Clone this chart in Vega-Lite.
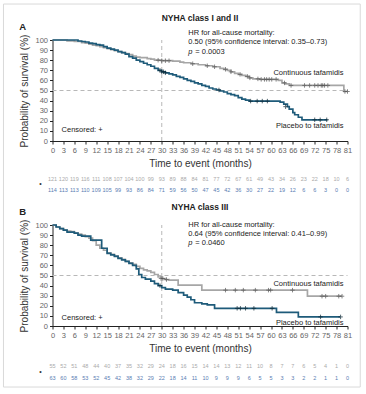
{
  "$schema": "https://vega.github.io/schema/vega-lite/v6.json",
  "padding": {"top": 3, "left": 2.5, "right": 3, "bottom": 3},
  "background": "white",
  "config": {
    "font": "Liberation Sans",
    "view": {"stroke": null},
    "axis": {"domainColor": "#222", "tickColor": "#222", "labelColor": "#666", "labelFontSize": 7.5, "titleFontSize": 10, "titleColor": "#333", "titleFontWeight": "normal", "grid": false, "tickSize": 3, "labelPadding": 2}
  },
  "datasets": {
    "one": [{}],
    "kmA": [
      {"arm": "Continuous tafamidis", "t": 0, "s": 100}, {"arm": "Continuous tafamidis", "t": 3, "s": 100}, {"arm": "Continuous tafamidis", "t": 4, "s": 99.2}, {"arm": "Continuous tafamidis", "t": 6, "s": 98.5}, {"arm": "Continuous tafamidis", "t": 8, "s": 97.5}, {"arm": "Continuous tafamidis", "t": 9, "s": 97}, {"arm": "Continuous tafamidis", "t": 10, "s": 96}, {"arm": "Continuous tafamidis", "t": 11, "s": 95}, {"arm": "Continuous tafamidis", "t": 12, "s": 94.5}, {"arm": "Continuous tafamidis", "t": 13, "s": 93.5}, {"arm": "Continuous tafamidis", "t": 14, "s": 92.5}, {"arm": "Continuous tafamidis", "t": 15, "s": 91.5}, {"arm": "Continuous tafamidis", "t": 16, "s": 90.5}, {"arm": "Continuous tafamidis", "t": 17, "s": 89.5}, {"arm": "Continuous tafamidis", "t": 18, "s": 88.5}, {"arm": "Continuous tafamidis", "t": 19, "s": 87.5}, {"arm": "Continuous tafamidis", "t": 20, "s": 86.5}, {"arm": "Continuous tafamidis", "t": 21, "s": 85.5}, {"arm": "Continuous tafamidis", "t": 22, "s": 84}, {"arm": "Continuous tafamidis", "t": 23, "s": 83}, {"arm": "Continuous tafamidis", "t": 24, "s": 82.5}, {"arm": "Continuous tafamidis", "t": 26, "s": 81.5}, {"arm": "Continuous tafamidis", "t": 27, "s": 81}, {"arm": "Continuous tafamidis", "t": 28, "s": 80}, {"arm": "Continuous tafamidis", "t": 30, "s": 79.5}, {"arm": "Continuous tafamidis", "t": 33, "s": 79}, {"arm": "Continuous tafamidis", "t": 35, "s": 78}, {"arm": "Continuous tafamidis", "t": 36, "s": 77.5}, {"arm": "Continuous tafamidis", "t": 38, "s": 76.5}, {"arm": "Continuous tafamidis", "t": 40, "s": 75.5}, {"arm": "Continuous tafamidis", "t": 42, "s": 74.5}, {"arm": "Continuous tafamidis", "t": 44, "s": 73.5}, {"arm": "Continuous tafamidis", "t": 46, "s": 72}, {"arm": "Continuous tafamidis", "t": 47, "s": 71}, {"arm": "Continuous tafamidis", "t": 48, "s": 70}, {"arm": "Continuous tafamidis", "t": 49, "s": 68.5}, {"arm": "Continuous tafamidis", "t": 50, "s": 67}, {"arm": "Continuous tafamidis", "t": 51, "s": 66}, {"arm": "Continuous tafamidis", "t": 52, "s": 65}, {"arm": "Continuous tafamidis", "t": 53, "s": 64}, {"arm": "Continuous tafamidis", "t": 54, "s": 62.5}, {"arm": "Continuous tafamidis", "t": 55, "s": 61.5}, {"arm": "Continuous tafamidis", "t": 57, "s": 61}, {"arm": "Continuous tafamidis", "t": 62, "s": 60}, {"arm": "Continuous tafamidis", "t": 63, "s": 57.5}, {"arm": "Continuous tafamidis", "t": 64, "s": 56.5}, {"arm": "Continuous tafamidis", "t": 65, "s": 55}, {"arm": "Continuous tafamidis", "t": 80, "s": 49}, {"arm": "Continuous tafamidis", "t": 81, "s": 49},
      {"arm": "Placebo to tafamidis", "t": 0, "s": 100}, {"arm": "Placebo to tafamidis", "t": 6, "s": 100}, {"arm": "Placebo to tafamidis", "t": 7, "s": 99}, {"arm": "Placebo to tafamidis", "t": 8, "s": 98.5}, {"arm": "Placebo to tafamidis", "t": 9, "s": 98}, {"arm": "Placebo to tafamidis", "t": 10, "s": 97}, {"arm": "Placebo to tafamidis", "t": 11, "s": 96.5}, {"arm": "Placebo to tafamidis", "t": 12, "s": 95.5}, {"arm": "Placebo to tafamidis", "t": 13, "s": 95}, {"arm": "Placebo to tafamidis", "t": 14, "s": 93.5}, {"arm": "Placebo to tafamidis", "t": 15, "s": 92}, {"arm": "Placebo to tafamidis", "t": 16, "s": 91}, {"arm": "Placebo to tafamidis", "t": 17, "s": 90}, {"arm": "Placebo to tafamidis", "t": 18, "s": 88.5}, {"arm": "Placebo to tafamidis", "t": 19, "s": 87.5}, {"arm": "Placebo to tafamidis", "t": 20, "s": 86}, {"arm": "Placebo to tafamidis", "t": 21, "s": 83.5}, {"arm": "Placebo to tafamidis", "t": 22, "s": 82}, {"arm": "Placebo to tafamidis", "t": 23, "s": 80}, {"arm": "Placebo to tafamidis", "t": 24, "s": 78.5}, {"arm": "Placebo to tafamidis", "t": 25, "s": 77}, {"arm": "Placebo to tafamidis", "t": 26, "s": 75.5}, {"arm": "Placebo to tafamidis", "t": 27, "s": 74}, {"arm": "Placebo to tafamidis", "t": 28, "s": 72}, {"arm": "Placebo to tafamidis", "t": 29, "s": 70}, {"arm": "Placebo to tafamidis", "t": 30, "s": 68.5}, {"arm": "Placebo to tafamidis", "t": 31, "s": 67.5}, {"arm": "Placebo to tafamidis", "t": 32, "s": 66.5}, {"arm": "Placebo to tafamidis", "t": 33, "s": 65.5}, {"arm": "Placebo to tafamidis", "t": 34, "s": 64}, {"arm": "Placebo to tafamidis", "t": 35, "s": 63}, {"arm": "Placebo to tafamidis", "t": 36, "s": 61.5}, {"arm": "Placebo to tafamidis", "t": 37, "s": 60}, {"arm": "Placebo to tafamidis", "t": 38, "s": 59}, {"arm": "Placebo to tafamidis", "t": 39, "s": 57.5}, {"arm": "Placebo to tafamidis", "t": 40, "s": 56.5}, {"arm": "Placebo to tafamidis", "t": 41, "s": 55}, {"arm": "Placebo to tafamidis", "t": 42, "s": 54}, {"arm": "Placebo to tafamidis", "t": 43, "s": 52.5}, {"arm": "Placebo to tafamidis", "t": 44, "s": 51.5}, {"arm": "Placebo to tafamidis", "t": 45, "s": 50.5}, {"arm": "Placebo to tafamidis", "t": 46, "s": 49.5}, {"arm": "Placebo to tafamidis", "t": 47, "s": 48.5}, {"arm": "Placebo to tafamidis", "t": 48, "s": 47}, {"arm": "Placebo to tafamidis", "t": 49, "s": 46}, {"arm": "Placebo to tafamidis", "t": 50, "s": 45}, {"arm": "Placebo to tafamidis", "t": 51, "s": 43}, {"arm": "Placebo to tafamidis", "t": 52, "s": 41.5}, {"arm": "Placebo to tafamidis", "t": 53, "s": 40.5}, {"arm": "Placebo to tafamidis", "t": 54, "s": 39.5}, {"arm": "Placebo to tafamidis", "t": 62.5, "s": 38.5}, {"arm": "Placebo to tafamidis", "t": 63.5, "s": 36.5}, {"arm": "Placebo to tafamidis", "t": 64.5, "s": 34}, {"arm": "Placebo to tafamidis", "t": 65, "s": 31.5}, {"arm": "Placebo to tafamidis", "t": 66, "s": 28}, {"arm": "Placebo to tafamidis", "t": 66.5, "s": 26}, {"arm": "Placebo to tafamidis", "t": 67.5, "s": 23.5}, {"arm": "Placebo to tafamidis", "t": 68.5, "s": 21}, {"arm": "Placebo to tafamidis", "t": 75.5, "s": 21}
    ],
    "censA": [
      {"arm": "Continuous tafamidis", "t": 29, "s": 80}, {"arm": "Continuous tafamidis", "t": 30, "s": 79.5}, {"arm": "Continuous tafamidis", "t": 31, "s": 79.5}, {"arm": "Continuous tafamidis", "t": 32, "s": 79.5}, {"arm": "Continuous tafamidis", "t": 38.5, "s": 76.5}, {"arm": "Continuous tafamidis", "t": 42.5, "s": 74.5}, {"arm": "Continuous tafamidis", "t": 44.5, "s": 73.5}, {"arm": "Continuous tafamidis", "t": 47.5, "s": 71}, {"arm": "Continuous tafamidis", "t": 49, "s": 68.5}, {"arm": "Continuous tafamidis", "t": 51.5, "s": 66}, {"arm": "Continuous tafamidis", "t": 53.5, "s": 64}, {"arm": "Continuous tafamidis", "t": 54.2, "s": 62.5}, {"arm": "Continuous tafamidis", "t": 56.4, "s": 61.5}, {"arm": "Continuous tafamidis", "t": 57.3, "s": 61}, {"arm": "Continuous tafamidis", "t": 58.2, "s": 61}, {"arm": "Continuous tafamidis", "t": 58.8, "s": 61}, {"arm": "Continuous tafamidis", "t": 59.5, "s": 61}, {"arm": "Continuous tafamidis", "t": 60.2, "s": 61}, {"arm": "Continuous tafamidis", "t": 61.4, "s": 61}, {"arm": "Continuous tafamidis", "t": 63.7, "s": 57.5}, {"arm": "Continuous tafamidis", "t": 65.5, "s": 55}, {"arm": "Continuous tafamidis", "t": 69.2, "s": 55}, {"arm": "Continuous tafamidis", "t": 70.6, "s": 55}, {"arm": "Continuous tafamidis", "t": 72, "s": 55}, {"arm": "Continuous tafamidis", "t": 72.9, "s": 55}, {"arm": "Continuous tafamidis", "t": 73.8, "s": 55}, {"arm": "Continuous tafamidis", "t": 74.2, "s": 55}, {"arm": "Continuous tafamidis", "t": 74.7, "s": 55}, {"arm": "Continuous tafamidis", "t": 75.6, "s": 55}, {"arm": "Continuous tafamidis", "t": 80.3, "s": 49}, {"arm": "Continuous tafamidis", "t": 81, "s": 49},
      {"arm": "Placebo to tafamidis", "t": 29.5, "s": 70}, {"arm": "Placebo to tafamidis", "t": 30, "s": 68.5}, {"arm": "Placebo to tafamidis", "t": 30.5, "s": 68.5}, {"arm": "Placebo to tafamidis", "t": 31, "s": 67.5}, {"arm": "Placebo to tafamidis", "t": 45.7, "s": 50.5}, {"arm": "Placebo to tafamidis", "t": 54.4, "s": 39.5}, {"arm": "Placebo to tafamidis", "t": 56.2, "s": 39.5}, {"arm": "Placebo to tafamidis", "t": 57.6, "s": 39.5}, {"arm": "Placebo to tafamidis", "t": 59, "s": 39.5}, {"arm": "Placebo to tafamidis", "t": 64, "s": 34}, {"arm": "Placebo to tafamidis", "t": 72, "s": 21}, {"arm": "Placebo to tafamidis", "t": 73.5, "s": 21}, {"arm": "Placebo to tafamidis", "t": 75.3, "s": 21}
    ],
    "riskA": [
      {"arm": "Continuous tafamidis", "t": 0, "n": 121}, {"arm": "Continuous tafamidis", "t": 3, "n": 120}, {"arm": "Continuous tafamidis", "t": 6, "n": 119}, {"arm": "Continuous tafamidis", "t": 9, "n": 116}, {"arm": "Continuous tafamidis", "t": 12, "n": 111}, {"arm": "Continuous tafamidis", "t": 15, "n": 108}, {"arm": "Continuous tafamidis", "t": 18, "n": 107}, {"arm": "Continuous tafamidis", "t": 21, "n": 104}, {"arm": "Continuous tafamidis", "t": 24, "n": 100}, {"arm": "Continuous tafamidis", "t": 27, "n": 99}, {"arm": "Continuous tafamidis", "t": 30, "n": 93}, {"arm": "Continuous tafamidis", "t": 33, "n": 89}, {"arm": "Continuous tafamidis", "t": 36, "n": 88}, {"arm": "Continuous tafamidis", "t": 39, "n": 84}, {"arm": "Continuous tafamidis", "t": 42, "n": 81}, {"arm": "Continuous tafamidis", "t": 45, "n": 77}, {"arm": "Continuous tafamidis", "t": 48, "n": 72}, {"arm": "Continuous tafamidis", "t": 51, "n": 67}, {"arm": "Continuous tafamidis", "t": 54, "n": 61}, {"arm": "Continuous tafamidis", "t": 57, "n": 49}, {"arm": "Continuous tafamidis", "t": 60, "n": 43}, {"arm": "Continuous tafamidis", "t": 63, "n": 34}, {"arm": "Continuous tafamidis", "t": 66, "n": 26}, {"arm": "Continuous tafamidis", "t": 69, "n": 23}, {"arm": "Continuous tafamidis", "t": 72, "n": 22}, {"arm": "Continuous tafamidis", "t": 75, "n": 18}, {"arm": "Continuous tafamidis", "t": 78, "n": 10}, {"arm": "Continuous tafamidis", "t": 81, "n": 6},
      {"arm": "Placebo to tafamidis", "t": 0, "n": 114}, {"arm": "Placebo to tafamidis", "t": 3, "n": 113}, {"arm": "Placebo to tafamidis", "t": 6, "n": 113}, {"arm": "Placebo to tafamidis", "t": 9, "n": 110}, {"arm": "Placebo to tafamidis", "t": 12, "n": 109}, {"arm": "Placebo to tafamidis", "t": 15, "n": 105}, {"arm": "Placebo to tafamidis", "t": 18, "n": 99}, {"arm": "Placebo to tafamidis", "t": 21, "n": 93}, {"arm": "Placebo to tafamidis", "t": 24, "n": 86}, {"arm": "Placebo to tafamidis", "t": 27, "n": 84}, {"arm": "Placebo to tafamidis", "t": 30, "n": 71}, {"arm": "Placebo to tafamidis", "t": 33, "n": 59}, {"arm": "Placebo to tafamidis", "t": 36, "n": 56}, {"arm": "Placebo to tafamidis", "t": 39, "n": 50}, {"arm": "Placebo to tafamidis", "t": 42, "n": 47}, {"arm": "Placebo to tafamidis", "t": 45, "n": 45}, {"arm": "Placebo to tafamidis", "t": 48, "n": 42}, {"arm": "Placebo to tafamidis", "t": 51, "n": 36}, {"arm": "Placebo to tafamidis", "t": 54, "n": 30}, {"arm": "Placebo to tafamidis", "t": 57, "n": 27}, {"arm": "Placebo to tafamidis", "t": 60, "n": 22}, {"arm": "Placebo to tafamidis", "t": 63, "n": 19}, {"arm": "Placebo to tafamidis", "t": 66, "n": 12}, {"arm": "Placebo to tafamidis", "t": 69, "n": 6}, {"arm": "Placebo to tafamidis", "t": 72, "n": 6}, {"arm": "Placebo to tafamidis", "t": 75, "n": 3}, {"arm": "Placebo to tafamidis", "t": 78, "n": 0}, {"arm": "Placebo to tafamidis", "t": 81, "n": 0}
    ],
    "kmB": [
      {"arm": "Continuous tafamidis", "t": 0, "s": 100}, {"arm": "Continuous tafamidis", "t": 1, "s": 98}, {"arm": "Continuous tafamidis", "t": 2, "s": 96.5}, {"arm": "Continuous tafamidis", "t": 3, "s": 95}, {"arm": "Continuous tafamidis", "t": 4, "s": 94}, {"arm": "Continuous tafamidis", "t": 5, "s": 93.5}, {"arm": "Continuous tafamidis", "t": 6, "s": 92}, {"arm": "Continuous tafamidis", "t": 7, "s": 91}, {"arm": "Continuous tafamidis", "t": 8, "s": 90}, {"arm": "Continuous tafamidis", "t": 9, "s": 88.5}, {"arm": "Continuous tafamidis", "t": 10, "s": 87}, {"arm": "Continuous tafamidis", "t": 11, "s": 84.5}, {"arm": "Continuous tafamidis", "t": 12, "s": 80}, {"arm": "Continuous tafamidis", "t": 13, "s": 77}, {"arm": "Continuous tafamidis", "t": 14, "s": 75}, {"arm": "Continuous tafamidis", "t": 15, "s": 72.5}, {"arm": "Continuous tafamidis", "t": 16, "s": 71}, {"arm": "Continuous tafamidis", "t": 17, "s": 69.5}, {"arm": "Continuous tafamidis", "t": 18, "s": 67.5}, {"arm": "Continuous tafamidis", "t": 19, "s": 66}, {"arm": "Continuous tafamidis", "t": 20, "s": 64}, {"arm": "Continuous tafamidis", "t": 21, "s": 62.5}, {"arm": "Continuous tafamidis", "t": 22, "s": 61}, {"arm": "Continuous tafamidis", "t": 23, "s": 59}, {"arm": "Continuous tafamidis", "t": 24, "s": 57}, {"arm": "Continuous tafamidis", "t": 25, "s": 55.5}, {"arm": "Continuous tafamidis", "t": 26, "s": 54.5}, {"arm": "Continuous tafamidis", "t": 27, "s": 53}, {"arm": "Continuous tafamidis", "t": 28, "s": 51}, {"arm": "Continuous tafamidis", "t": 29, "s": 48.5}, {"arm": "Continuous tafamidis", "t": 30, "s": 47}, {"arm": "Continuous tafamidis", "t": 31, "s": 46}, {"arm": "Continuous tafamidis", "t": 32, "s": 45.5}, {"arm": "Continuous tafamidis", "t": 34.5, "s": 40.5}, {"arm": "Continuous tafamidis", "t": 41, "s": 35.5}, {"arm": "Continuous tafamidis", "t": 70, "s": 29.5}, {"arm": "Continuous tafamidis", "t": 79.5, "s": 29.5},
      {"arm": "Placebo to tafamidis", "t": 0, "s": 100}, {"arm": "Placebo to tafamidis", "t": 1, "s": 98}, {"arm": "Placebo to tafamidis", "t": 2, "s": 96.5}, {"arm": "Placebo to tafamidis", "t": 3, "s": 95}, {"arm": "Placebo to tafamidis", "t": 4, "s": 93}, {"arm": "Placebo to tafamidis", "t": 6, "s": 92}, {"arm": "Placebo to tafamidis", "t": 7, "s": 90}, {"arm": "Placebo to tafamidis", "t": 8, "s": 89}, {"arm": "Placebo to tafamidis", "t": 10.5, "s": 85}, {"arm": "Placebo to tafamidis", "t": 13.5, "s": 77}, {"arm": "Placebo to tafamidis", "t": 15, "s": 72}, {"arm": "Placebo to tafamidis", "t": 16, "s": 70.5}, {"arm": "Placebo to tafamidis", "t": 17, "s": 69}, {"arm": "Placebo to tafamidis", "t": 18, "s": 67}, {"arm": "Placebo to tafamidis", "t": 19, "s": 65.5}, {"arm": "Placebo to tafamidis", "t": 20, "s": 64}, {"arm": "Placebo to tafamidis", "t": 21, "s": 62}, {"arm": "Placebo to tafamidis", "t": 22, "s": 60}, {"arm": "Placebo to tafamidis", "t": 23, "s": 56.5}, {"arm": "Placebo to tafamidis", "t": 23.7, "s": 51}, {"arm": "Placebo to tafamidis", "t": 24.5, "s": 48}, {"arm": "Placebo to tafamidis", "t": 25.5, "s": 46.5}, {"arm": "Placebo to tafamidis", "t": 27, "s": 44.5}, {"arm": "Placebo to tafamidis", "t": 28, "s": 42}, {"arm": "Placebo to tafamidis", "t": 29, "s": 40}, {"arm": "Placebo to tafamidis", "t": 30, "s": 38}, {"arm": "Placebo to tafamidis", "t": 31, "s": 36.5}, {"arm": "Placebo to tafamidis", "t": 33, "s": 35.5}, {"arm": "Placebo to tafamidis", "t": 34.5, "s": 33}, {"arm": "Placebo to tafamidis", "t": 36, "s": 30.5}, {"arm": "Placebo to tafamidis", "t": 37, "s": 28.5}, {"arm": "Placebo to tafamidis", "t": 38, "s": 26}, {"arm": "Placebo to tafamidis", "t": 39, "s": 23}, {"arm": "Placebo to tafamidis", "t": 41, "s": 22}, {"arm": "Placebo to tafamidis", "t": 42.5, "s": 21}, {"arm": "Placebo to tafamidis", "t": 44.5, "s": 17.5}, {"arm": "Placebo to tafamidis", "t": 61.5, "s": 13.5}, {"arm": "Placebo to tafamidis", "t": 67.5, "s": 9}, {"arm": "Placebo to tafamidis", "t": 79, "s": 9}
    ],
    "censB": [
      {"arm": "Continuous tafamidis", "t": 29.8, "s": 47}, {"arm": "Continuous tafamidis", "t": 30.3, "s": 47}, {"arm": "Continuous tafamidis", "t": 31.3, "s": 46}, {"arm": "Continuous tafamidis", "t": 47.5, "s": 35.5}, {"arm": "Continuous tafamidis", "t": 50.2, "s": 35.5}, {"arm": "Continuous tafamidis", "t": 52.4, "s": 35.5}, {"arm": "Continuous tafamidis", "t": 55.7, "s": 35.5}, {"arm": "Continuous tafamidis", "t": 59.3, "s": 35.5}, {"arm": "Continuous tafamidis", "t": 59.9, "s": 35.5}, {"arm": "Continuous tafamidis", "t": 65.9, "s": 35.5}, {"arm": "Continuous tafamidis", "t": 74, "s": 29.5}, {"arm": "Continuous tafamidis", "t": 75, "s": 29.5}, {"arm": "Continuous tafamidis", "t": 78.6, "s": 29.5}, {"arm": "Continuous tafamidis", "t": 79.5, "s": 29.5},
      {"arm": "Placebo to tafamidis", "t": 29.5, "s": 40}, {"arm": "Placebo to tafamidis", "t": 50.7, "s": 17.5}, {"arm": "Placebo to tafamidis", "t": 51.6, "s": 17.5}, {"arm": "Placebo to tafamidis", "t": 53, "s": 17.5}, {"arm": "Placebo to tafamidis", "t": 55.3, "s": 17.5}, {"arm": "Placebo to tafamidis", "t": 60.3, "s": 17.5}, {"arm": "Placebo to tafamidis", "t": 73.6, "s": 9}, {"arm": "Placebo to tafamidis", "t": 79.1, "s": 9}
    ],
    "riskB": [
      {"arm": "Continuous tafamidis", "t": 0, "n": 55}, {"arm": "Continuous tafamidis", "t": 3, "n": 52}, {"arm": "Continuous tafamidis", "t": 6, "n": 51}, {"arm": "Continuous tafamidis", "t": 9, "n": 48}, {"arm": "Continuous tafamidis", "t": 12, "n": 44}, {"arm": "Continuous tafamidis", "t": 15, "n": 40}, {"arm": "Continuous tafamidis", "t": 18, "n": 37}, {"arm": "Continuous tafamidis", "t": 21, "n": 35}, {"arm": "Continuous tafamidis", "t": 24, "n": 32}, {"arm": "Continuous tafamidis", "t": 27, "n": 29}, {"arm": "Continuous tafamidis", "t": 30, "n": 24}, {"arm": "Continuous tafamidis", "t": 33, "n": 18}, {"arm": "Continuous tafamidis", "t": 36, "n": 16}, {"arm": "Continuous tafamidis", "t": 39, "n": 15}, {"arm": "Continuous tafamidis", "t": 42, "n": 14}, {"arm": "Continuous tafamidis", "t": 45, "n": 14}, {"arm": "Continuous tafamidis", "t": 48, "n": 13}, {"arm": "Continuous tafamidis", "t": 51, "n": 12}, {"arm": "Continuous tafamidis", "t": 54, "n": 11}, {"arm": "Continuous tafamidis", "t": 57, "n": 10}, {"arm": "Continuous tafamidis", "t": 60, "n": 8}, {"arm": "Continuous tafamidis", "t": 63, "n": 7}, {"arm": "Continuous tafamidis", "t": 66, "n": 7}, {"arm": "Continuous tafamidis", "t": 69, "n": 6}, {"arm": "Continuous tafamidis", "t": 72, "n": 5}, {"arm": "Continuous tafamidis", "t": 75, "n": 4}, {"arm": "Continuous tafamidis", "t": 78, "n": 1}, {"arm": "Continuous tafamidis", "t": 81, "n": 0},
      {"arm": "Placebo to tafamidis", "t": 0, "n": 63}, {"arm": "Placebo to tafamidis", "t": 3, "n": 60}, {"arm": "Placebo to tafamidis", "t": 6, "n": 58}, {"arm": "Placebo to tafamidis", "t": 9, "n": 53}, {"arm": "Placebo to tafamidis", "t": 12, "n": 52}, {"arm": "Placebo to tafamidis", "t": 15, "n": 45}, {"arm": "Placebo to tafamidis", "t": 18, "n": 42}, {"arm": "Placebo to tafamidis", "t": 21, "n": 38}, {"arm": "Placebo to tafamidis", "t": 24, "n": 32}, {"arm": "Placebo to tafamidis", "t": 27, "n": 29}, {"arm": "Placebo to tafamidis", "t": 30, "n": 22}, {"arm": "Placebo to tafamidis", "t": 33, "n": 18}, {"arm": "Placebo to tafamidis", "t": 36, "n": 14}, {"arm": "Placebo to tafamidis", "t": 39, "n": 11}, {"arm": "Placebo to tafamidis", "t": 42, "n": 10}, {"arm": "Placebo to tafamidis", "t": 45, "n": 9}, {"arm": "Placebo to tafamidis", "t": 48, "n": 9}, {"arm": "Placebo to tafamidis", "t": 51, "n": 9}, {"arm": "Placebo to tafamidis", "t": 54, "n": 6}, {"arm": "Placebo to tafamidis", "t": 57, "n": 5}, {"arm": "Placebo to tafamidis", "t": 60, "n": 5}, {"arm": "Placebo to tafamidis", "t": 63, "n": 3}, {"arm": "Placebo to tafamidis", "t": 66, "n": 3}, {"arm": "Placebo to tafamidis", "t": 69, "n": 2}, {"arm": "Placebo to tafamidis", "t": 72, "n": 2}, {"arm": "Placebo to tafamidis", "t": 75, "n": 1}, {"arm": "Placebo to tafamidis", "t": 78, "n": 1}, {"arm": "Placebo to tafamidis", "t": 81, "n": 0}
    ]
  },
  "bounds": "flush",
  "spacing": 84,
  "vconcat": [
    {
      "width": 295,
      "height": 101,
      "resolve": {"axis": {"x": "independent", "y": "independent"}},
      "layer": [
        {"data": {"name": "one"}, "mark": {"type": "rect", "filled": false, "color": "#d9d9d9", "strokeWidth": 1}, "encoding": {"x": {"datum": -13.46, "axis": null}, "x2": {"datum": 84.5}, "y": {"datum": 135.6, "axis": null}, "y2": {"datum": -243.6}}},
        {"data": {"name": "one"}, "mark": {"type": "rule", "strokeDash": [4, 3], "color": "#b8b8b8", "strokeWidth": 1}, "encoding": {"y": {"datum": 50, "axis": null}, "x": {"datum": 0, "axis": null}, "x2": {"datum": 81}}},
        {"data": {"name": "one"}, "mark": {"type": "rule", "strokeDash": [4, 3], "color": "#b8b8b8", "strokeWidth": 1}, "encoding": {"x": {"datum": 30, "axis": null}, "y": {"datum": 0, "axis": null}, "y2": {"datum": 100}}},
        {
          "data": {"name": "kmA"},
          "mark": {"type": "line", "interpolate": "step-after", "strokeWidth": 1.7},
          "encoding": {
            "x": {"field": "t", "type": "quantitative", "scale": {"domain": [0, 81], "nice": false}, "axis": {"values": [0,3,6,9,12,15,18,21,24,27,30,33,36,39,42,45,48,51,54,57,60,63,66,69,72,75,78,81], "title": "Time to event (months)", "labelAngle": 0, "titlePadding": 5, "labelFlush": false}},
            "y": {"field": "s", "type": "quantitative", "scale": {"domain": [0, 100], "nice": false}, "axis": {"values": [0,10,20,30,40,50,60,70,80,90,100], "title": "Probability of survival (%)", "titlePadding": 5}},
            "color": {"field": "arm", "type": "nominal", "scale": {"domain": ["Continuous tafamidis", "Placebo to tafamidis"], "range": ["#a6a6a6", "#1e5b7a"]}, "legend": null},
            "order": {"field": "t", "type": "quantitative"}
          }
        },
        {
          "data": {"name": "censA"},
          "mark": {"type": "point", "shape": "M-1,0H1M0,-1V1", "size": 20, "strokeWidth": 1, "filled": false},
          "encoding": {
            "x": {"field": "t", "type": "quantitative", "axis": null},
            "y": {"field": "s", "type": "quantitative", "axis": null},
            "stroke": {"field": "arm", "type": "nominal", "scale": {"domain": ["Continuous tafamidis", "Placebo to tafamidis"], "range": ["#555555", "#0c2633"]}, "legend": null}
          }
        },
        {"data": {"name": "one"}, "mark": {"type": "text", "text": "NYHA class I and II", "fontSize": 8.5, "fontWeight": "bold", "align": "center", "baseline": "middle", "color": "#222"}, "encoding": {"x": {"datum": 40.5, "axis": null}, "y": {"datum": 121.8, "axis": null}}},
        {"data": {"name": "one"}, "mark": {"type": "text", "text": "A", "fontSize": 9.5, "fontWeight": "bold", "align": "center", "baseline": "middle", "color": "#222"}, "encoding": {"x": {"datum": -8.2, "axis": null}, "y": {"datum": 112.9, "axis": null}}},
        {"data": {"name": "one"}, "mark": {"type": "text", "text": ["HR for all-cause mortality:", "0.50 (95% confidence interval: 0.35–0.73)"], "lineHeight": 9.5, "fontSize": 7.5, "align": "left", "baseline": "top", "color": "#222"}, "encoding": {"x": {"datum": 37.3, "axis": null}, "y": {"datum": 110.9, "axis": null}}},
        {"data": {"name": "one"}, "mark": {"type": "text", "text": "p", "fontSize": 7.5, "fontStyle": "italic", "align": "left", "baseline": "middle", "color": "#222"}, "encoding": {"x": {"datum": 37.3, "axis": null}, "y": {"datum": 88.1, "axis": null}}},
        {"data": {"name": "one"}, "mark": {"type": "text", "text": "= 0.0003", "fontSize": 7.5, "align": "left", "baseline": "middle", "color": "#222"}, "encoding": {"x": {"datum": 39.2, "axis": null}, "y": {"datum": 88.1, "axis": null}}},
        {"data": {"name": "one"}, "mark": {"type": "text", "text": "Continuous tafamidis", "fontSize": 7.5, "align": "right", "baseline": "middle", "color": "#222"}, "encoding": {"x": {"datum": 79.9, "axis": null}, "y": {"datum": 67, "axis": null}}},
        {"data": {"name": "one"}, "mark": {"type": "text", "text": "Placebo to tafamidis", "fontSize": 7.5, "align": "right", "baseline": "middle", "color": "#222"}, "encoding": {"x": {"datum": 79.9, "axis": null}, "y": {"datum": 14.9, "axis": null}}},
        {"data": {"name": "one"}, "mark": {"type": "text", "text": "Censored: +", "fontSize": 7.5, "align": "left", "baseline": "middle", "color": "#222"}, "encoding": {"x": {"datum": 2.5, "axis": null}, "y": {"datum": 10.9, "axis": null}}},
        {"data": {"name": "riskA"}, "transform": [{"filter": "datum.arm === 'Continuous tafamidis'"}], "mark": {"type": "text", "fontSize": 5.5, "color": "#aaaaaa", "baseline": "middle"}, "encoding": {"x": {"field": "t", "type": "quantitative", "axis": null}, "y": {"datum": -37.5, "axis": null}, "text": {"field": "n", "type": "quantitative"}}},
        {"data": {"name": "riskA"}, "transform": [{"filter": "datum.arm === 'Placebo to tafamidis'"}], "mark": {"type": "text", "fontSize": 5.5, "color": "#5a7db3", "baseline": "middle"}, "encoding": {"x": {"field": "t", "type": "quantitative", "axis": null}, "y": {"datum": -48.5, "axis": null}, "text": {"field": "n", "type": "quantitative"}}},
        {"data": {"name": "one"}, "mark": {"type": "text", "text": "•", "fontSize": 7, "align": "center", "baseline": "middle", "color": "#333"}, "encoding": {"x": {"datum": -3.3, "axis": null}, "y": {"datum": -43, "axis": null}}}
      ]
    },
    {
      "width": 295,
      "height": 101,
      "resolve": {"axis": {"x": "independent", "y": "independent"}},
      "layer": [
        {"data": {"name": "one"}, "mark": {"type": "rule", "strokeDash": [4, 3], "color": "#b8b8b8", "strokeWidth": 1}, "encoding": {"y": {"datum": 50, "axis": null}, "x": {"datum": 0, "axis": null}, "x2": {"datum": 81}}},
        {"data": {"name": "one"}, "mark": {"type": "rule", "strokeDash": [4, 3], "color": "#b8b8b8", "strokeWidth": 1}, "encoding": {"x": {"datum": 30, "axis": null}, "y": {"datum": 0, "axis": null}, "y2": {"datum": 100}}},
        {
          "data": {"name": "kmB"},
          "mark": {"type": "line", "interpolate": "step-after", "strokeWidth": 1.7},
          "encoding": {
            "x": {"field": "t", "type": "quantitative", "scale": {"domain": [0, 81], "nice": false}, "axis": {"values": [0,3,6,9,12,15,18,21,24,27,30,33,36,39,42,45,48,51,54,57,60,63,66,69,72,75,78,81], "title": "Time to event (months)", "labelAngle": 0, "titlePadding": 5, "labelFlush": false}},
            "y": {"field": "s", "type": "quantitative", "scale": {"domain": [0, 100], "nice": false}, "axis": {"values": [0,10,20,30,40,50,60,70,80,90,100], "title": "Probability of survival (%)", "titlePadding": 5}},
            "color": {"field": "arm", "type": "nominal", "scale": {"domain": ["Continuous tafamidis", "Placebo to tafamidis"], "range": ["#a6a6a6", "#1e5b7a"]}, "legend": null},
            "order": {"field": "t", "type": "quantitative"}
          }
        },
        {
          "data": {"name": "censB"},
          "mark": {"type": "point", "shape": "M-1,0H1M0,-1V1", "size": 20, "strokeWidth": 1, "filled": false},
          "encoding": {
            "x": {"field": "t", "type": "quantitative", "axis": null},
            "y": {"field": "s", "type": "quantitative", "axis": null},
            "stroke": {"field": "arm", "type": "nominal", "scale": {"domain": ["Continuous tafamidis", "Placebo to tafamidis"], "range": ["#555555", "#0c2633"]}, "legend": null}
          }
        },
        {"data": {"name": "one"}, "mark": {"type": "text", "text": "NYHA class III", "fontSize": 8.5, "fontWeight": "bold", "align": "center", "baseline": "middle", "color": "#222"}, "encoding": {"x": {"datum": 40.5, "axis": null}, "y": {"datum": 117.8, "axis": null}}},
        {"data": {"name": "one"}, "mark": {"type": "text", "text": "B", "fontSize": 9.5, "fontWeight": "bold", "align": "center", "baseline": "middle", "color": "#222"}, "encoding": {"x": {"datum": -8.2, "axis": null}, "y": {"datum": 112.6, "axis": null}}},
        {"data": {"name": "one"}, "mark": {"type": "text", "text": ["HR for all-cause mortality:", "0.64 (95% confidence interval: 0.41–0.99)"], "lineHeight": 9.5, "fontSize": 7.5, "align": "left", "baseline": "top", "color": "#222"}, "encoding": {"x": {"datum": 37.3, "axis": null}, "y": {"datum": 104, "axis": null}}},
        {"data": {"name": "one"}, "mark": {"type": "text", "text": "p", "fontSize": 7.5, "fontStyle": "italic", "align": "left", "baseline": "middle", "color": "#222"}, "encoding": {"x": {"datum": 37.3, "axis": null}, "y": {"datum": 82.5, "axis": null}}},
        {"data": {"name": "one"}, "mark": {"type": "text", "text": "= 0.0460", "fontSize": 7.5, "align": "left", "baseline": "middle", "color": "#222"}, "encoding": {"x": {"datum": 39.2, "axis": null}, "y": {"datum": 82.5, "axis": null}}},
        {"data": {"name": "one"}, "mark": {"type": "text", "text": "Continuous tafamidis", "fontSize": 7.5, "align": "right", "baseline": "middle", "color": "#222"}, "encoding": {"x": {"datum": 79.9, "axis": null}, "y": {"datum": 41.6, "axis": null}}},
        {"data": {"name": "one"}, "mark": {"type": "text", "text": "Placebo to tafamidis", "fontSize": 7.5, "align": "right", "baseline": "middle", "color": "#222"}, "encoding": {"x": {"datum": 79.9, "axis": null}, "y": {"datum": 3.3, "axis": null}}},
        {"data": {"name": "one"}, "mark": {"type": "text", "text": "Censored: +", "fontSize": 7.5, "align": "left", "baseline": "middle", "color": "#222"}, "encoding": {"x": {"datum": 2.5, "axis": null}, "y": {"datum": 8.2, "axis": null}}},
        {"data": {"name": "riskB"}, "transform": [{"filter": "datum.arm === 'Continuous tafamidis'"}], "mark": {"type": "text", "fontSize": 5.5, "color": "#aaaaaa", "baseline": "middle"}, "encoding": {"x": {"field": "t", "type": "quantitative", "axis": null}, "y": {"datum": -40, "axis": null}, "text": {"field": "n", "type": "quantitative"}}},
        {"data": {"name": "riskB"}, "transform": [{"filter": "datum.arm === 'Placebo to tafamidis'"}], "mark": {"type": "text", "fontSize": 5.5, "color": "#5a7db3", "baseline": "middle"}, "encoding": {"x": {"field": "t", "type": "quantitative", "axis": null}, "y": {"datum": -51, "axis": null}, "text": {"field": "n", "type": "quantitative"}}},
        {"data": {"name": "one"}, "mark": {"type": "text", "text": "•", "fontSize": 7, "align": "center", "baseline": "middle", "color": "#333"}, "encoding": {"x": {"datum": -3.3, "axis": null}, "y": {"datum": -46, "axis": null}}}
      ]
    }
  ]
}
